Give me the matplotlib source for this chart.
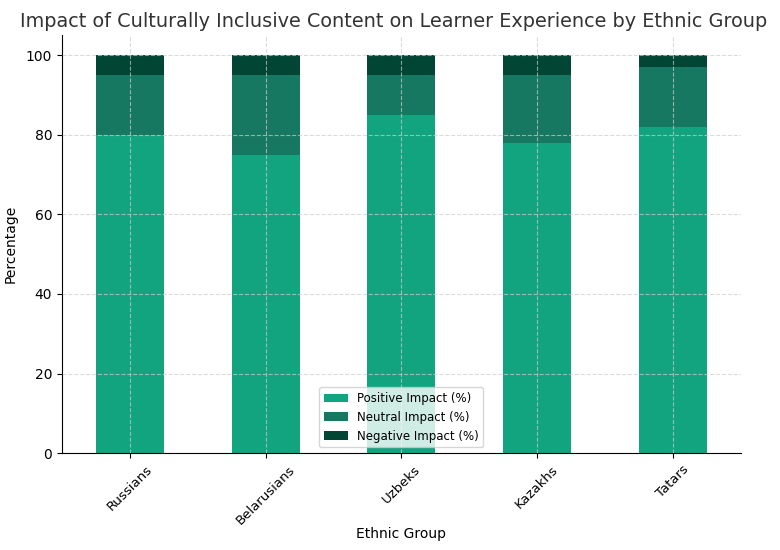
import numpy as np
import matplotlib.pyplot as plt

groups = ["Russians", "Belarusians", "Uzbeks", "Kazakhs", "Tatars"]
positive = [80, 75, 85, 78, 82]
neutral = [15, 20, 10, 17, 15]
negative = [5, 5, 5, 5, 3]

fig = plt.figure(figsize=(7.8, 5.5), dpi=100)
ax = fig.add_axes([0.0795, 0.176, 0.87, 0.76])

x = np.arange(len(groups))
pos = np.array(positive)
neu = np.array(neutral)
neg = np.array(negative)

ax.bar(x, pos, width=0.5, color="#12a37f", label="Positive Impact (%)")
ax.bar(x, neu, width=0.5, bottom=pos, color="#167860", label="Neutral Impact (%)")
ax.bar(x, neg, width=0.5, bottom=pos + neu, color="#014534", label="Negative Impact (%)")

ax.set_xlim(-0.5, 4.5)
ax.set_ylim(0, 105)
ax.set_xticks(x)
ax.set_xticklabels(groups, rotation=45, fontsize=9.5)
ax.tick_params(axis="y", labelsize=10)
ax.set_xlabel("Ethnic Group", fontsize=10, labelpad=0)
ax.set_ylabel("Percentage", fontsize=10, labelpad=6)
ax.set_title("Impact of Culturally Inclusive Content on Learner Experience by Ethnic Group",
             fontsize=13.9, color="#333333", x=0.488)
ax.grid(True, linestyle="--", color="#cccccc", linewidth=0.8, alpha=0.7)
ax.set_axisbelow(False)
ax.spines["top"].set_visible(False)
ax.spines["right"].set_visible(False)
ax.legend(loc="lower center", fontsize=8.5)

plt.savefig("out.png", dpi=100)
